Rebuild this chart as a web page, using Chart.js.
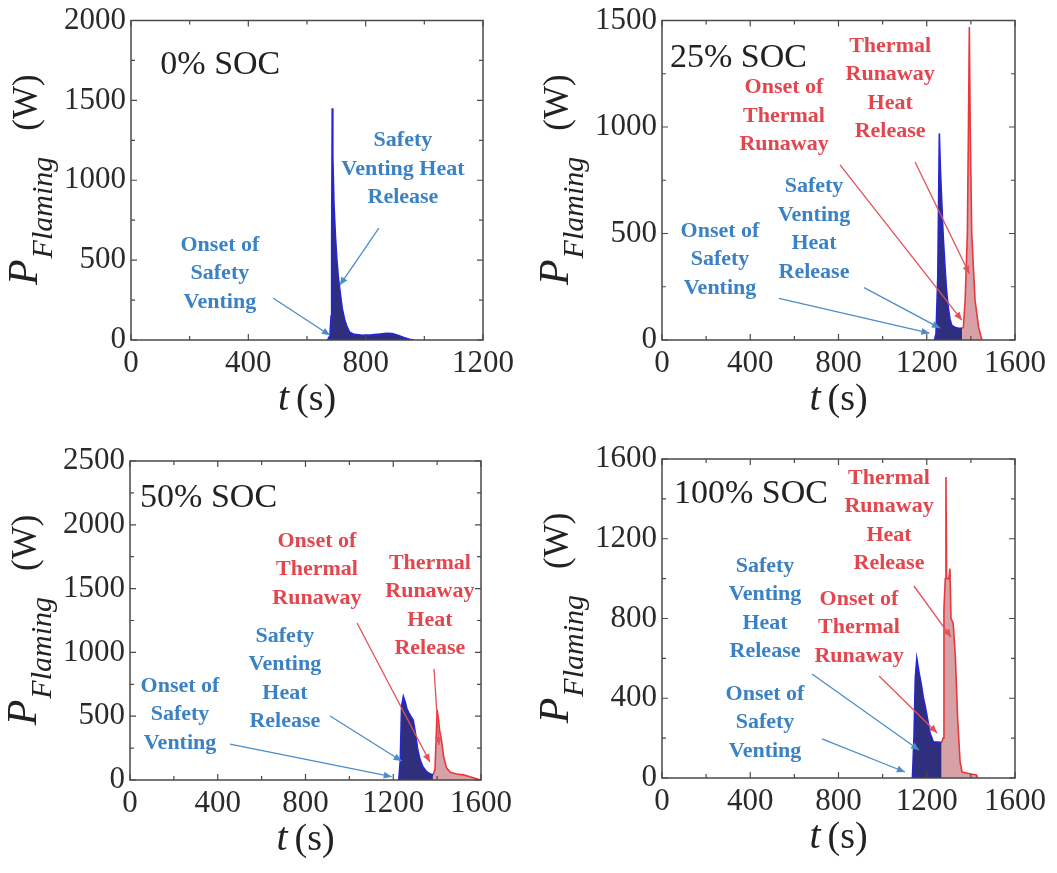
<!DOCTYPE html>
<html><head><meta charset="utf-8">
<script src="https://cdn.jsdelivr.net/npm/chart.js@4/dist/chart.umd.min.js"></script>
<style>
html,body{margin:0;padding:0;background:#fff;}
#wrap{position:relative;width:1057px;height:873px;overflow:hidden;background:#fff;}
canvas{position:absolute;}
.pre{position:absolute;left:-1000px;top:-1000px;font-family:"Liberation Serif";}
</style></head><body>
<span class="pre" style="font-size:31px">0123456789 SOC</span>
<span class="pre" style="font-size:40px;font-style:italic">t P Flaming</span>
<span class="pre" style="font-size:22px;font-weight:bold">Onset of Safety</span>
<div id="wrap">
<canvas id="c0" width="528" height="436" style="left:0;top:0;width:528px;height:436px"></canvas>
<canvas id="c25" width="529" height="436" style="left:528px;top:0;width:529px;height:436px"></canvas>
<canvas id="c50" width="528" height="437" style="left:0;top:436px;width:528px;height:437px"></canvas>
<canvas id="c100" width="529" height="437" style="left:528px;top:436px;width:529px;height:437px"></canvas>
</div>
<script>
// ---------- DATA ----------
// 0% SOC
const soc0VentT = [670, 678, 682, 684, 686, 688, 692, 697, 702, 707, 713, 720, 728, 736, 745, 760, 790, 820, 850, 870, 890, 910, 930, 950, 965];
const soc0VentP = [0, 25, 150, 600, 1450, 1150, 850, 650, 500, 390, 300, 200, 130, 85, 50, 35, 30, 32, 38, 42, 40, 30, 15, 5, 0];
// 25% SOC
const soc25VentT = [1235, 1242, 1250, 1257, 1262, 1268, 1275, 1283, 1290, 1298, 1305, 1313, 1330, 1345, 1360];
const soc25VentP = [0, 30, 300, 970, 800, 650, 480, 340, 230, 150, 100, 70, 58, 55, 55];
const soc25RunT = [1360, 1366, 1374, 1384, 1389, 1393, 1397, 1404, 1419, 1435, 1442, 1450];
const soc25RunP = [55, 60, 186, 497, 1000, 1470, 1000, 497, 186, 60, 32, 0];
// 50% SOC
const soc50VentT = [1225, 1232, 1238, 1246, 1255, 1262, 1270, 1280, 1291, 1300, 1312, 1322, 1335, 1350, 1365, 1381];
const soc50VentP = [0, 150, 580, 655, 610, 560, 530, 500, 470, 380, 235, 160, 104, 70, 50, 40];
const soc50RunT = [1381, 1390, 1395, 1400, 1406, 1412, 1420, 1430, 1443, 1460, 1489, 1520, 1550, 1580, 1595];
const soc50RunP = [40, 80, 300, 550, 480, 380, 310, 180, 95, 60, 47, 40, 25, 10, 0];
// 100% SOC
const soc100VentT = [1135, 1142, 1148, 1155, 1165, 1177, 1185, 1192, 1203, 1215, 1230, 1250, 1268];
const soc100VentP = [0, 200, 500, 600, 530, 458, 400, 366, 300, 225, 182, 180, 178];
const soc100RunT = [1268, 1274, 1278, 1284, 1287, 1290, 1300, 1305, 1310, 1320, 1330, 1340, 1351, 1360, 1400, 1426, 1430];
const soc100RunP = [178, 200, 850, 1000, 1510, 1000, 1000, 1050, 800, 777, 600, 300, 82, 30, 20, 15, 0];

// tick labels
const xTicks1200 = [0, 400, 800, 1200];
const xTicks1600 = [0, 400, 800, 1200, 1600];
const xMinor1200 = [200, 600, 1000];
const xMinor1600 = [200, 600, 1000, 1400];
const yTicks0 = [0, 500, 1000, 1500, 2000];
const yTicks25 = [0, 500, 1000, 1500];
const yTicks50 = [0, 500, 1000, 1500, 2000, 2500];
const yTicks100 = [0, 400, 800, 1200, 1600];
const yMinor0 = [250, 750, 1250, 1750];
const yMinor25 = [250, 750, 1250];
const yMinor50 = [250, 750, 1250, 1750, 2250];
const yMinor100 = [200, 600, 1000, 1400];

// ---------- STYLE ----------
const BLUE_LINE = '#2626d6', BLUE_FILL = '#2f2f7e';
const RED_LINE = '#e8383c', RED_FILL = '#d6a2a7';
const BLUE_TXT = '#3b82c4', RED_TXT = '#e2474f';
const BLUE_ARW = '#4b8dc9', RED_ARW = '#e35058';
const SERIF = '"Liberation Serif", "Times New Roman", serif';

function pts(t, p) { return t.map((v, i) => ({ x: v, y: p[i] })); }

function makeOverlay(cfg) {
  return {
    id: 'overlay',
    afterDatasetsDraw(chart) {
      const { ctx, chartArea: a, scales: { x, y } } = chart;
      ctx.save();
      ctx.strokeStyle = '#4a4a4a';
      ctx.lineWidth = 1.5;
      ctx.strokeRect(a.left, a.top, a.right - a.left, a.bottom - a.top);
      ctx.lineWidth = 1.2;
      ctx.beginPath();
      const xt = (v, len) => { const px = x.getPixelForValue(v); ctx.moveTo(px, a.bottom); ctx.lineTo(px, a.bottom - len); ctx.moveTo(px, a.top); ctx.lineTo(px, a.top + len); };
      const yt = (v, len) => { const py = y.getPixelForValue(v); ctx.moveTo(a.left, py); ctx.lineTo(a.left + len, py); ctx.moveTo(a.right, py); ctx.lineTo(a.right - len, py); };
      cfg.xTicks.forEach(v => xt(v, 6));
      cfg.xMinor.forEach(v => xt(v, 4));
      cfg.yTicks.forEach(v => yt(v, 6));
      cfg.yMinor.forEach(v => yt(v, 4));
      ctx.stroke();
      ctx.restore();
    },
    afterDraw(chart) {
      const { ctx, chartArea: a, scales: { x, y } } = chart;
      const X = v => x.getPixelForValue(v), Y = v => y.getPixelForValue(v);
      ctx.save();
      ctx.fillStyle = '#222';
      ctx.font = '34px ' + SERIF;
      ctx.textAlign = 'left'; ctx.textBaseline = 'middle';
      ctx.fillText(cfg.soc.text, X(cfg.soc.x), Y(cfg.soc.y));
      cfg.arrows.forEach(ar => {
        const x1 = X(ar.from[0]), y1 = Y(ar.from[1]), x2 = X(ar.to[0]), y2 = Y(ar.to[1]);
        ctx.strokeStyle = ar.color; ctx.fillStyle = ar.color; ctx.lineWidth = 1.3;
        ctx.beginPath(); ctx.moveTo(x1, y1); ctx.lineTo(x2, y2); ctx.stroke();
        const ang = Math.atan2(y2 - y1, x2 - x1), L = 8, W = 3.5;
        ctx.beginPath();
        ctx.moveTo(x2, y2);
        ctx.lineTo(x2 - L * Math.cos(ang) + W * Math.sin(ang), y2 - L * Math.sin(ang) - W * Math.cos(ang));
        ctx.lineTo(x2 - L * Math.cos(ang) - W * Math.sin(ang), y2 - L * Math.sin(ang) + W * Math.cos(ang));
        ctx.closePath(); ctx.fill();
      });
      ctx.font = 'bold 22px ' + SERIF;
      ctx.textAlign = 'center'; ctx.textBaseline = 'middle';
      cfg.texts.forEach(t => {
        ctx.fillStyle = t.color;
        const x0 = X(t.x), y0 = Y(t.y);
        t.lines.forEach((ln, i) => ctx.fillText(ln, x0, y0 + i * 28.5));
      });
      ctx.fillStyle = '#222';
      ctx.textBaseline = 'alphabetic'; ctx.textAlign = 'left';
      const fT = 'italic 40px ' + SERIF, fS = '38px ' + SERIF;
      ctx.font = fT; const wt = ctx.measureText('t').width;
      ctx.font = fS; const ws = ctx.measureText('(s)').width;
      const gapT = 7;
      let sx = (a.left + a.right) / 2 - (wt + gapT + ws) / 2;
      const by = a.bottom + 70;
      ctx.font = fT; ctx.fillText('t', sx, by);
      ctx.font = fS; ctx.fillText('(s)', sx + wt + gapT, by);
      ctx.save();
      ctx.translate(a.left - 94, (a.top + a.bottom) / 2);
      ctx.rotate(-Math.PI / 2);
      const fP = 'italic 42px ' + SERIF, fF = 'italic 30px ' + SERIF, fW = '35px ' + SERIF;
      ctx.font = fP; const wP = ctx.measureText('P').width;
      ctx.font = fF; const wF = ctx.measureText('Flaming').width;
      ctx.font = fW; const wW = ctx.measureText('(W)').width;
      const gap = 26;
      let s = -(wP + wF + gap + wW) / 2;
      ctx.font = fP; ctx.fillText('P', s, 0); s += wP + 1;
      ctx.font = fF; ctx.fillText('Flaming', s, 15); s += wF + gap;
      ctx.font = fW; ctx.fillText('(W)', s, 0);
      ctx.restore();
      ctx.restore();
    }
  };
}

function makePanel(id, cfg) {
  const datasets = cfg.series.map(s => ({
    data: pts(s.t, s.p),
    borderColor: s.line,
    backgroundColor: s.fill,
    borderWidth: 1.6,
    fill: 'origin',
    pointRadius: 0,
    tension: 0
  }));
  const tickFont = { family: SERIF, size: 31, lineHeight: 1 };
  new Chart(document.getElementById(id), {
    type: 'line',
    data: { datasets },
    options: {
      responsive: false,
      animation: false,
      devicePixelRatio: 1,
      layout: { padding: { top: cfg.padTop, right: cfg.padRight, left: 0, bottom: 0 } },
      plugins: { legend: { display: false }, tooltip: { enabled: false } },
      scales: {
        x: {
          type: 'linear', min: cfg.xTicks[0], max: cfg.xTicks[cfg.xTicks.length - 1],
          grid: { display: false, drawTicks: false },
          border: { display: false },
          afterBuildTicks: sc => { sc.ticks = cfg.xTicks.map(v => ({ value: v })); },
          afterFit: sc => { sc.height = cfg.xH; },
          ticks: { font: tickFont, color: '#2a2a2a', padding: 8, maxRotation: 0, autoSkip: false, callback: v => String(v) }
        },
        y: {
          type: 'linear', min: cfg.yTicks[0], max: cfg.yTicks[cfg.yTicks.length - 1],
          grid: { display: false, drawTicks: false },
          border: { display: false },
          afterBuildTicks: sc => { sc.ticks = cfg.yTicks.map(v => ({ value: v })); },
          afterFit: sc => { sc.width = cfg.yW; },
          ticks: { font: tickFont, color: '#2a2a2a', padding: 5, autoSkip: false, callback: v => String(v) }
        }
      }
    },
    plugins: [makeOverlay(cfg)]
  });
}

function drawAll() {
  makePanel('c0', {
    padTop: 20, padRight: 45, yW: 131, xH: 96,
    xTicks: xTicks1200, xMinor: xMinor1200, yTicks: yTicks0, yMinor: yMinor0,
    series: [{ t: soc0VentT, p: soc0VentP, line: BLUE_LINE, fill: BLUE_FILL }],
    soc: { text: '0% SOC', x: 100, y: 1720 },
    texts: [
      { lines: ['Safety', 'Venting Heat', 'Release'], x: 927, y: 1250, color: BLUE_TXT },
      { lines: ['Onset of', 'Safety', 'Venting'], x: 303, y: 594, color: BLUE_TXT }
    ],
    arrows: [
      { from: [484, 263], to: [678, 30], color: BLUE_ARW },
      { from: [845, 700], to: [712, 344], color: BLUE_ARW }
    ]
  });

  makePanel('c25', {
    padTop: 17, padRight: 42, yW: 134, xH: 96,
    xTicks: xTicks1600, xMinor: xMinor1600, yTicks: yTicks25, yMinor: yMinor25,
    series: [
      { t: soc25VentT, p: soc25VentP, line: BLUE_LINE, fill: BLUE_FILL },
      { t: soc25RunT, p: soc25RunP, line: RED_LINE, fill: RED_FILL }
    ],
    soc: { text: '25% SOC', x: 36, y: 1324 },
    texts: [
      { lines: ['Thermal', 'Runaway', 'Heat', 'Release'], x: 1034, y: 1379, color: RED_TXT },
      { lines: ['Onset of', 'Thermal', 'Runaway'], x: 553, y: 1184, color: RED_TXT },
      { lines: ['Safety', 'Venting', 'Heat', 'Release'], x: 689, y: 720, color: BLUE_TXT },
      { lines: ['Onset of', 'Safety', 'Venting'], x: 263, y: 511, color: BLUE_TXT }
    ],
    arrows: [
      { from: [530, 195], to: [1212, 32], color: BLUE_ARW },
      { from: [916, 246], to: [1260, 56], color: BLUE_ARW },
      { from: [807, 822], to: [1359, 93], color: RED_ARW },
      { from: [1147, 836], to: [1393, 311], color: RED_ARW }
    ]
  });

  makePanel('c50', {
    padTop: 25, padRight: 47, yW: 130, xH: 93,
    xTicks: xTicks1600, xMinor: xMinor1600, yTicks: yTicks50, yMinor: yMinor50,
    series: [
      { t: soc50VentT, p: soc50VentP, line: BLUE_LINE, fill: BLUE_FILL },
      { t: soc50RunT, p: soc50RunP, line: RED_LINE, fill: RED_FILL }
    ],
    soc: { text: '50% SOC', x: 46, y: 2210 },
    texts: [
      { lines: ['Onset of', 'Thermal', 'Runaway'], x: 852, y: 1873, color: RED_TXT },
      { lines: ['Thermal', 'Runaway', 'Heat', 'Release'], x: 1367, y: 1701, color: RED_TXT },
      { lines: ['Safety', 'Venting', 'Heat', 'Release'], x: 706, y: 1129, color: BLUE_TXT },
      { lines: ['Onset of', 'Safety', 'Venting'], x: 228, y: 737, color: BLUE_TXT }
    ],
    arrows: [
      { from: [456, 282], to: [1193, 26], color: BLUE_ARW },
      { from: [912, 502], to: [1238, 149], color: BLUE_ARW },
      { from: [1035, 1230], to: [1367, 141], color: RED_ARW },
      { from: [1386, 870], to: [1408, 274], color: RED_ARW }
    ]
  });

  makePanel('c100', {
    padTop: 23, padRight: 42, yW: 134, xH: 95,
    xTicks: xTicks1600, xMinor: xMinor1600, yTicks: yTicks100, yMinor: yMinor100,
    series: [
      { t: soc100VentT, p: soc100VentP, line: BLUE_LINE, fill: BLUE_FILL },
      { t: soc100RunT, p: soc100RunP, line: RED_LINE, fill: RED_FILL }
    ],
    soc: { text: '100% SOC', x: 54, y: 1424 },
    texts: [
      { lines: ['Thermal', 'Runaway', 'Heat', 'Release'], x: 1029, y: 1505, color: RED_TXT },
      { lines: ['Onset of', 'Thermal', 'Runaway'], x: 893, y: 898, color: RED_TXT },
      { lines: ['Safety', 'Venting', 'Heat', 'Release'], x: 467, y: 1063, color: BLUE_TXT },
      { lines: ['Onset of', 'Safety', 'Venting'], x: 467, y: 421, color: BLUE_TXT }
    ],
    arrows: [
      { from: [725, 196], to: [1101, 30], color: BLUE_ARW },
      { from: [680, 522], to: [1165, 140], color: BLUE_ARW },
      { from: [984, 512], to: [1247, 226], color: RED_ARW },
      { from: [1142, 963], to: [1310, 707], color: RED_ARW }
    ]
  });
}

const fontSpecs = ['31px "Liberation Serif"', '34px "Liberation Serif"', 'italic 40px "Liberation Serif"', 'bold 22px "Liberation Serif"'];
let drawn = false;
function go() { if (drawn) return; drawn = true; drawAll(); }
if (document.fonts && document.fonts.load) {
  Promise.all(fontSpecs.map(f => document.fonts.load(f))).then(go, go);
  setTimeout(go, 1500);
} else { go(); }
</script>
</body></html>
